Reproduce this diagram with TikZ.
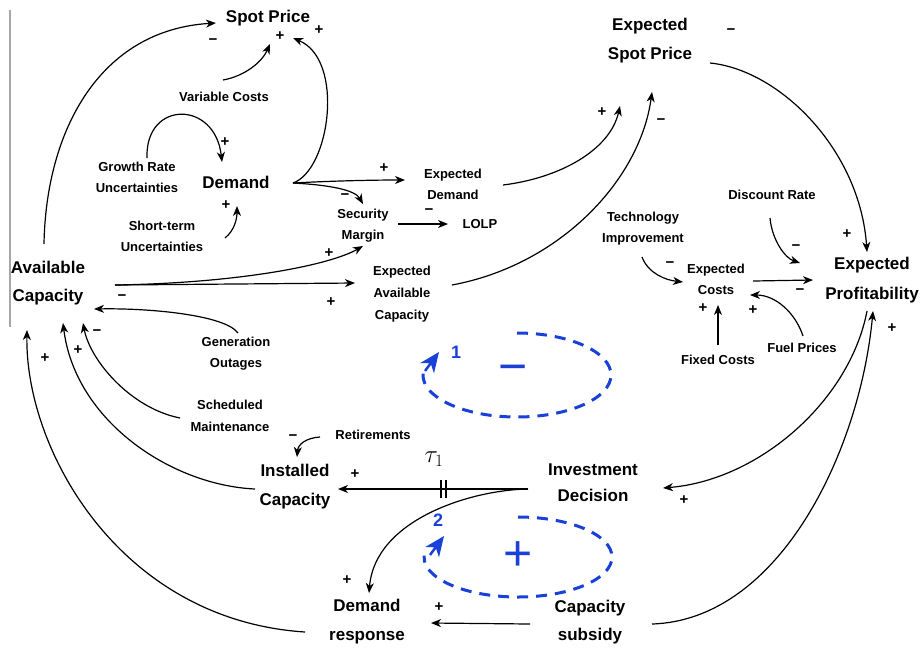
\documentclass[tikz,border=0pt]{standalone}
\usepackage{fontspec}
\setmainfont{Liberation Sans}
\usetikzlibrary{arrows.meta}
\definecolor{loopblue}{RGB}{25,65,215}
\begin{document}
\begin{tikzpicture}[x=1pt,y=-1pt,
  big/.style={font=\fontsize{17}{29}\selectfont\bfseries, align=center, inner sep=1pt},
  small/.style={font=\fontsize{13}{21}\selectfont\bfseries, align=center, inner sep=1pt},
  sgn/.style={font=\fontsize{15}{15}\selectfont\bfseries, inner sep=0pt},
  link/.style={-{Stealth[length=10pt,width=8pt,inset=3pt]}, line width=1.2pt},
  loopline/.style={loopblue, line width=3pt, dash pattern=on 11pt off 8pt},
  looptip/.style={loopblue, line width=2.5pt, -{Stealth[length=20pt,width=17pt,inset=6pt]}},
  looplbl/.style={text=loopblue, font=\fontsize{18}{18}\selectfont\bfseries, inner sep=0pt},
  loopsign/.style={text=loopblue, font=\fontsize{50}{50}\selectfont, inner sep=0pt}
]
\useasboundingbox (0,0) rectangle (920,649);
\draw[gray!70, line width=1.5pt] (10,10) -- (10,327);

% nodes
\node[big] (sp) at (268,18) {Spot Price};
\node[big] (esp) at (650,41) {Expected\\Spot Price};
\node[small] (vc) at (224,97) {Variable Costs};
\node[small] (gru) at (137,177) {Growth Rate\\Uncertainties};
\node[big] (dem) at (236,182) {Demand};
\node[small] (stu) at (162,236) {Short-term\\Uncertainties};
\node[small] (ed) at (453,184) {Expected\\Demand};
\node[small] (sm) at (363,226) {Security\\Margin};
\node[small] (lolp) at (480,224) {LOLP};
\node[big, font=\fontsize{17}{28}\selectfont\bfseries] (ac) at (48,283) {Available\\Capacity};
\node[small, font=\fontsize{13}{22}\selectfont\bfseries] (eac) at (402,294) {Expected\\Available\\Capacity};
\node[small] (ti) at (643,229) {Technology\\Improvement};
\node[small] (dr) at (772,195) {Discount Rate};
\node[small] (ec) at (716,279) {Expected\\Costs};
\node[big, font=\fontsize{17}{30}\selectfont\bfseries] (ep) at (872,280) {Expected\\Profitability};
\node[small] (fc) at (718,360) {Fixed Costs};
\node[small] (fp) at (802,348) {Fuel Prices};
\node[small] (go) at (236,354) {Generation\\Outages};
\node[small, font=\fontsize{13}{22}\selectfont\bfseries] (smn) at (230,416) {Scheduled\\Maintenance};
\node[small] (ret) at (373,435) {Retirements};
\node[big] (ic) at (295,487) {Installed\\Capacity};
\node[big, font=\fontsize{17}{26}\selectfont\bfseries] (id) at (593,483) {Investment\\Decision};
\node[big] (dresp) at (367,622) {Demand\\response};
\node[big, font=\fontsize{17}{28}\selectfont\bfseries] (cs) at (590,622) {Capacity\\subsidy};
\node[font=\fontsize{24}{24}\selectfont, inner sep=0pt] (tau) at (434,459) {$\tau_1$};

% connectors
\draw[link] ([shift={(-4,-39)}]ac.center) .. controls (46,130) and (100,30) .. ([shift={(-52,5)}]sp.center);
\draw[link] ([shift={(-1,-17)}]vc.center) .. controls (245,76) and (262,62) .. ([shift={(2,26)}]sp.center);
\draw[link] ([shift={(57,1)}]dem.center) .. controls (330,170) and (345,60) .. ([shift={(25,20)}]sp.center);
\draw[link] ([shift={(10,-19)}]gru.center) .. controls (145,100) and (215,100) .. ([shift={(-14,-20)}]dem.center);
\draw[link] ([shift={(63,2)}]stu.center) .. controls (235,230) and (237,218) .. ([shift={(1,24)}]dem.center);
\draw[link] ([shift={(57,1)}]dem.center) .. controls (330,181) and (370,180) .. ([shift={(-48,-4)}]ed.center);
\draw[link] ([shift={(57,1)}]dem.center) .. controls (330,185) and (355,190) .. ([shift={(0,-22)}]sm.center);
\draw[link] ([shift={(35,-2)}]sm.center) -- ([shift={(-32,0)}]lolp.center);
\draw[link] ([shift={(67,2)}]ac.center) .. controls (240,283) and (330,265) .. ([shift={(0,20)}]sm.center);
\draw[link] ([shift={(67,2)}]ac.center) -- ([shift={(-47,-11)}]eac.center);
\draw[link] ([shift={(2,-21)}]go.center) .. controls (225,315) and (150,308) .. ([shift={(46,26)}]ac.center);
\draw[link] ([shift={(-50,2)}]smn.center) .. controls (130,408) and (90,360) .. ([shift={(35,40)}]ac.center);
\draw[link] ([shift={(-40,2)}]ic.center) .. controls (170,485) and (75,420) .. ([shift={(15,40)}]ac.center);
\draw[link] ([shift={(-62,10)}]dresp.center) .. controls (120,620) and (25,450) .. ([shift={(-21,47)}]ac.center);
\draw[link] ([shift={(50,1)}]ed.center) .. controls (560,178) and (610,150) .. ([shift={(-30,65)}]esp.center);
\draw[link] ([shift={(50,-9)}]eac.center) .. controls (560,265) and (640,180) .. ([shift={(2,51)}]esp.center);
\draw[link] ([shift={(60,22)}]esp.center) .. controls (780,70) and (860,150) .. ([shift={(-5,-28)}]ep.center);
\draw[link] ([shift={(-2,23)}]dr.center) .. controls (772,240) and (785,258) .. ([shift={(-72,-17)}]ep.center);
\draw[link] ([shift={(-1,28)}]ti.center) .. controls (648,273) and (665,280) .. ([shift={(-33,3)}]ec.center);
\draw[link] ([shift={(37,2)}]ec.center) -- ([shift={(-59,0)}]ep.center);
\draw[link] ([shift={(0,-15)}]fc.center) -- ([shift={(2,26)}]ec.center);
\draw[link] ([shift={(1,-12)}]fp.center) .. controls (795,312) and (775,295) .. ([shift={(34,16)}]ec.center);
\draw[link] ([shift={(-5,31)}]ep.center) .. controls (850,400) and (760,480) .. ([shift={(70,5)}]id.center);
\draw[link] ([shift={(62,2)}]cs.center) .. controls (780,620) and (860,450) .. ([shift={(1,31)}]ep.center);
\draw[link] ([shift={(-65,6)}]id.center) -- ([shift={(43,2)}]ic.center);
\draw[link] ([shift={(-65,6)}]id.center) .. controls (470,490) and (375,520) .. ([shift={(2,-29)}]dresp.center);
\draw[link] ([shift={(-60,2)}]cs.center) -- ([shift={(64,1)}]dresp.center);
\draw[link] ([shift={(-53,2)}]ret.center) .. controls (305,438) and (298,445) .. ([shift={(2,-30)}]ic.center);
% delay mark
\draw[line width=1.2pt] (441,480) -- (441,498) (446,480) -- (446,498);

% polarity signs
\node[sgn] (s1) at (213,42) {−};
\node[sgn] (s2) at (280,36) {+};
\node[sgn] (s3) at (319,30) {+};
\node[sgn] (s4) at (225,142) {+};
\node[sgn] (s5) at (226,205) {+};
\node[sgn] (s6) at (384,168) {+};
\node[sgn] (s7) at (345,197) {−};
\node[sgn] (s8) at (429,212) {−};
\node[sgn] (s9) at (329,253) {+};
\node[sgn] (s10) at (331,302) {+};
\node[sgn] (s11) at (122,298) {−};
\node[sgn] (s12) at (97,333) {−};
\node[sgn] (s13) at (78,350) {+};
\node[sgn] (s14) at (45,358) {+};
\node[sgn] (s15) at (602,112) {+};
\node[sgn] (s16) at (661,122) {−};
\node[sgn] (s17) at (731,32) {−};
\node[sgn] (s18) at (847,234) {+};
\node[sgn] (s19) at (796,248) {−};
\node[sgn] (s20) at (670,265) {−};
\node[sgn] (s21) at (800,292) {−};
\node[sgn] (s22) at (703,308) {+};
\node[sgn] (s23) at (753,310) {+};
\node[sgn] (s24) at (892,328) {+};
\node[sgn] (s25) at (684,500) {+};
\node[sgn] (s26) at (355,474) {+};
\node[sgn] (s27) at (347,580) {+};
\node[sgn] (s28) at (439,607) {+};
\node[sgn] (s29) at (293,438) {−};

% loops
\draw[loopline] (517,333) arc[start angle=270, end angle=542, x radius=94, y radius=42];
\draw[looptip] (425,371) -- (439,352);
\node[looplbl] (l1) at (456,352) {1};
\node[loopsign] (l1s) at (513,374) {−};
\draw[loopline] (518,517) arc[start angle=270, end angle=542, x radius=94, y radius=40];
\draw[looptip] (430,555) -- (444,536);
\node[looplbl] (l2) at (438,520) {2};
\node[loopsign] (l2s) at (518,556) {+};
\end{tikzpicture}
\end{document}
